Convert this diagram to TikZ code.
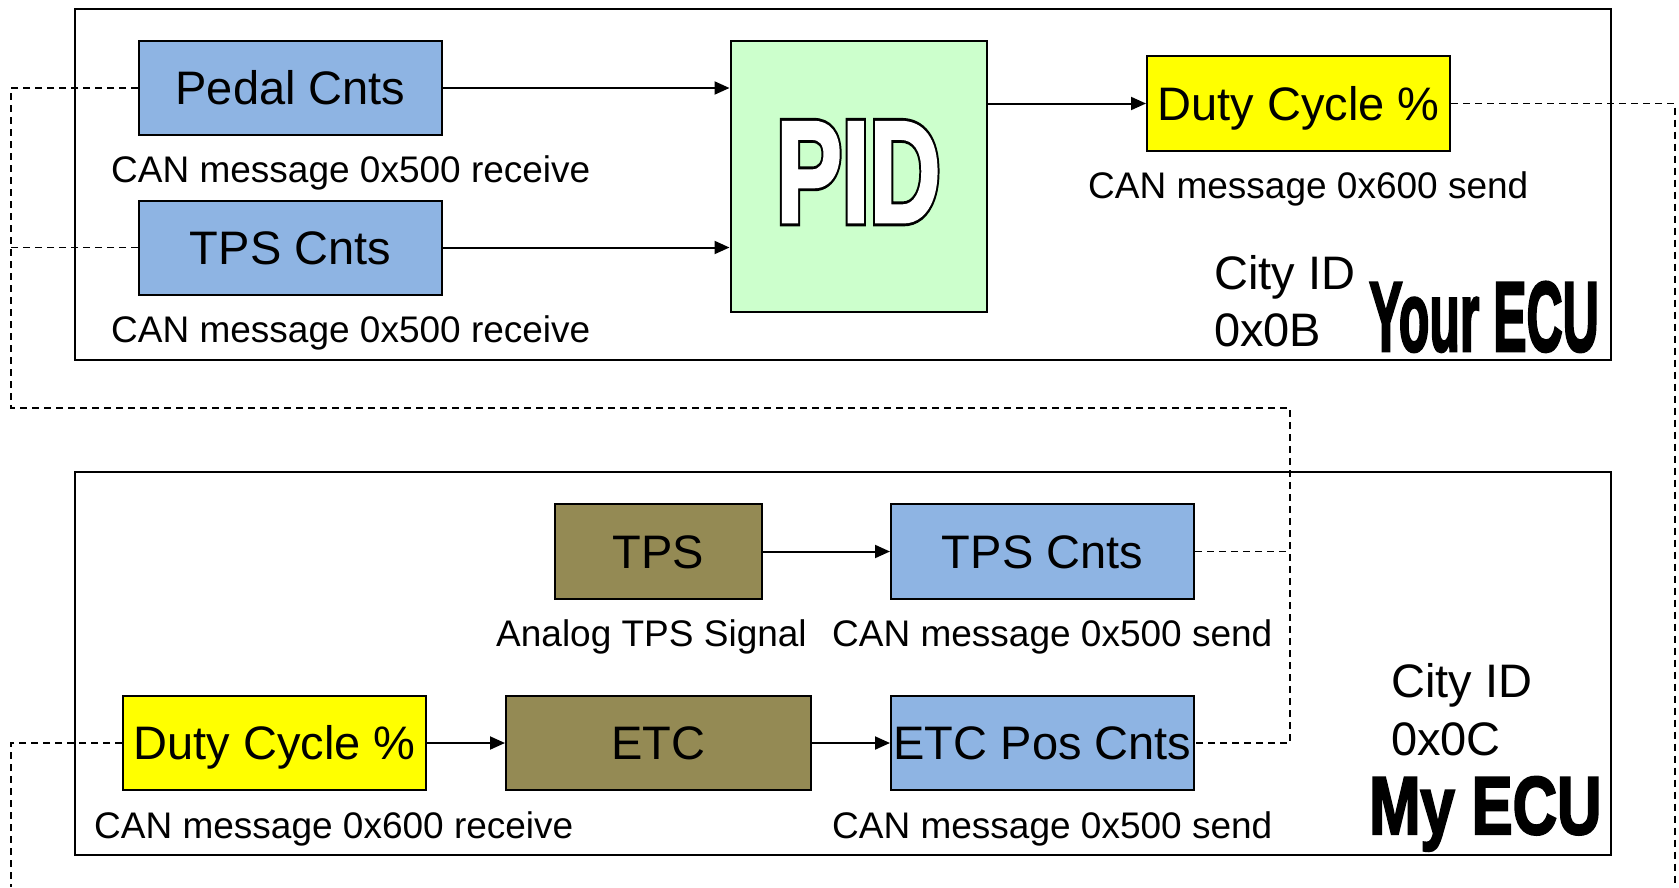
\documentclass[tikz,border=0pt]{standalone}
\usepackage{fontspec}
\setmainfont{Liberation Sans}
\newfontfamily\heavyfont[FakeBold=3]{Liberation Sans Bold}
\newfontfamily\pidrim[FakeBold=6]{Liberation Sans Bold}
\newfontfamily\pidface[FakeBold=2]{Liberation Sans Bold}
\usetikzlibrary{arrows.meta}
\definecolor{cntblue}{HTML}{8EB4E3}
\definecolor{sensorolive}{HTML}{948A54}
\definecolor{pidgreen}{HTML}{CCFFCC}
\definecolor{dutyyellow}{HTML}{FFFF00}
\tikzset{
  ecuframe/.style={draw, line width=2pt, minimum width=1536pt, inner sep=0pt},
  block/.style={draw, line width=2pt, inner sep=0pt, minimum height=94pt,
    text height=33.6pt, text depth=0pt, font=\fontsize{47}{56}\selectfont},
  cntbox/.style={block, fill=cntblue, minimum width=303pt},
  dutybox/.style={block, fill=dutyyellow, minimum width=303pt},
  olivebox/.style={block, fill=sensorolive},
  caption/.style={anchor=base west, inner sep=0pt, font=\fontsize{37}{44}\selectfont},
  cityid/.style={anchor=base west, inner sep=0pt, font=\fontsize{47}{56}\selectfont},
  flow/.style={line width=2pt, -{Triangle[length=15pt,width=13pt]}},
  bus/.style={line width=1.7pt, dash pattern=on 7pt off 5pt},
}
\begin{document}
\begin{tikzpicture}[x=1pt,y=-1pt]
\useasboundingbox (0,0) rectangle (1679,887);

% ECU frames
\node[ecuframe, minimum height=351pt] (yourecu) at (843,184.5) {};
\node[ecuframe, minimum height=383pt] (myecu) at (843,663.5) {};

% ---- Your ECU ----
\node[cntbox] (pedal) at (290.5,88) {Pedal Cnts};
\node[cntbox] (tpsin) at (290.5,247.5) {TPS Cnts};
\node[draw, line width=2pt, fill=pidgreen, inner sep=0pt, minimum width=256pt, minimum height=271pt] (pid) at (858.5,176) {};
\node[dutybox, minimum height=95pt] (dutyout) at (1298.5,103.5) {Duty Cycle \%};

\node[anchor=base, inner sep=0pt] (pidrim) at (858.5,222)
  {\scalebox{0.68}[1]{\pidrim\fontsize{145}{150}\selectfont PID}};
\node[anchor=base, inner sep=0pt, text=white] (pidface) at (858.5,222)
  {\scalebox{0.68}[1]{\pidface\fontsize{145}{150}\selectfont PID}};

\node[caption] (capA) at (111,182) {CAN message 0x500 receive};
\node[caption] (capB) at (111,342) {CAN message 0x500 receive};
\node[caption] (capC) at (1088,198) {CAN message 0x600 send};

\node[cityid] (cityA) at (1214,289) {City ID};
\node[cityid] (idA) at (1214,346) {0x0B};
\node[anchor=base west, inner sep=0pt] (nameA) at (1369,351)
  {\scalebox{0.505}[1]{\heavyfont\fontsize{99}{100}\selectfont Your ECU}};

\draw[flow] (pedal.east) -- (pedal.east -| pid.west);
\draw[flow] (tpsin.east) -- (tpsin.east -| pid.west);
\draw[flow] (dutyout.west -| pid.east) -- (dutyout.west);

% ---- My ECU ----
\node[olivebox, minimum width=207pt, minimum height=95pt] (tpssensor) at (658.5,551.5) {TPS};
\node[cntbox, minimum height=95pt] (tpsout) at (1042.5,551.5) {TPS Cnts};
\node[dutybox] (dutyin) at (274.5,743) {Duty Cycle \%};
\node[olivebox, minimum width=305pt] (etc) at (658.5,743) {ETC};
\node[cntbox] (etcpos) at (1042.5,743) {ETC Pos Cnts};

\node[caption] (capD) at (496,646) {Analog TPS Signal};
\node[caption] (capE) at (832,646) {CAN message 0x500 send};
\node[caption] (capF) at (94,838) {CAN message 0x600 receive};
\node[caption] (capG) at (832,838) {CAN message 0x500 send};

\node[cityid] (cityB) at (1391,697) {City ID};
\node[cityid] (idB) at (1391,755) {0x0C};
\node[anchor=base west, inner sep=0pt] (nameB) at (1369,834)
  {\scalebox{0.75}[1]{\heavyfont\fontsize{82}{84}\selectfont My ECU}};

\draw[flow] (tpssensor) -- (tpsout);
\draw[flow] (dutyin) -- (etc);
\draw[flow] (etc) -- (etcpos);

% ---- CAN bus wiring ----
\coordinate (busL) at (11,408);
\coordinate (busR) at (1290,408);
\coordinate (endR) at (1675,887);
\coordinate (endL) at (11,887);
\draw[bus] (pedal.west) -| (busL) -- (busR) |- (etcpos.east);
\draw[bus] (tpsin.west) -- (tpsin.west -| busL);
\draw[bus] (tpsout.east) -- (tpsout.east -| busR);
\draw[bus] (dutyout.east) -| (endR);
\draw[bus] (dutyin.west) -| (endL);
\end{tikzpicture}
\end{document}
